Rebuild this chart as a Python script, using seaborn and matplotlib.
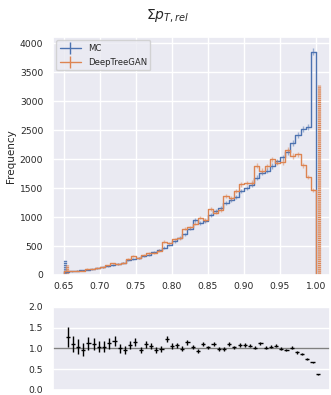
import numpy as np
import pandas as pd
import matplotlib
matplotlib.use("Agg")
import matplotlib.pyplot as plt
from matplotlib.lines import Line2D
import seaborn as sns

# Binning of the summed relative constituent pT
bin_lo, bin_hi, n_bins = 0.6507, 1.0, 49

series_names = ["MC", "DeepTreeGAN"]

mc_counts = [55, 62, 70, 80, 92, 100, 118, 130, 150, 170,
             190, 215, 255, 280, 300, 320, 350, 395, 430, 470,
             520, 580, 640, 700, 800, 950, 900, 930, 1040, 1100,
             1150, 1240, 1300, 1340, 1450, 1500, 1560, 1680, 1760, 1800,
             1880, 1960, 2030, 2120, 2280, 2420, 2520, 2560, 3850]

gan_counts = [70, 69, 73, 77, 103, 110, 123, 135, 168, 201,
              190, 206, 275, 325, 288, 352, 371, 379, 421, 573,
              551, 621, 634, 798, 824, 884, 990, 949, 1144, 1078,
              1127, 1364, 1326, 1447, 1566, 1590, 1591, 1882, 1795, 1872,
              1993, 1940, 1949, 2162, 2052, 2081, 1890, 1690, 1463]

# entries outside the binned range
mc_underflow = 260
gan_underflow = 170
gan_overflow = 3270

x_ticks = [0.65, 0.70, 0.75, 0.80, 0.85, 0.90, 0.95, 1.00]
y_ticks = [0, 500, 1000, 1500, 2000, 2500, 3000, 3500, 4000]
ratio_ticks = [0.0, 0.5, 1.0, 1.5, 2.0]

sns.set_theme(style="darkgrid")
plt.rcParams["font.family"] = ["DejaVu Sans"]
palette = sns.color_palette("deep")
c_mc, c_gan = palette[0], palette[1]

edges = np.linspace(bin_lo, bin_hi, n_bins + 1)
centers = 0.5 * (edges[:-1] + edges[1:])
width = edges[1] - edges[0]
mc = np.asarray(mc_counts, dtype=float)
gan = np.asarray(gan_counts, dtype=float)

fig = plt.figure(figsize=(3.31, 3.95), dpi=100)
ax = fig.add_axes([0.1601, 0.3038, 0.8369, 0.6025])
rax = fig.add_axes([0.1601, 0.0127, 0.8369, 0.2109])

lw = 1.0


def edge_spike(x, h, color):
    ax.vlines(x, 0, h, color=color, lw=2.3, alpha=0.35)
    ax.vlines(x, 0, h, color=color, lw=2.3, linestyles=(0, (0.3, 0.3)))


edge_spike(edges[0] + 0.15 * width, mc_underflow, c_mc)
edge_spike(edges[0] + 0.6 * width, gan_underflow, c_gan)
edge_spike(edges[-1] + 0.5 * width, gan_overflow, c_gan)

for counts, color in ((mc, c_mc), (gan, c_gan)):
    frame = pd.DataFrame({"x": centers, "n": counts})
    sns.histplot(data=frame, x="x", weights="n", bins=list(edges),
                 element="step", fill=False, color=color, linewidth=lw,
                 ax=ax)
    ax.plot([edges[0], edges[0]], [0, counts[0]], color=color, lw=lw)
    ax.plot([edges[-1], edges[-1]], [counts[-1], 0], color=color, lw=lw)
    ax.errorbar(centers, counts, yerr=np.sqrt(counts), fmt="none",
                ecolor=color, elinewidth=1.0, alpha=0.5)

ax.set_xlim(0.6354, 1.0194)
ax.set_ylim(0, 4105)
ax.set_xticks(x_ticks)
ax.set_xticklabels([f"{t:.2f}" for t in x_ticks])
ax.set_yticks(y_ticks)
ax.set_xlabel("")
ax.set_ylabel("Frequency", fontsize=7.5)
ax.yaxis.set_label_coords(-0.135, 0.5)
ax.tick_params(axis="x", labelsize=6.6, pad=4.7, length=0)
ax.tick_params(axis="y", labelsize=6.6, pad=7, length=0)

handles = [Line2D([], [], color=c, lw=lw, marker="|", markersize=8,
                  markeredgewidth=lw) for c in (c_mc, c_gan)]
ax.legend(handles, series_names, loc="upper left", fontsize=6.1,
          handlelength=2.5, borderaxespad=0.4, labelspacing=0.6,
          frameon=True)

# Ratio panel
ratio = gan / mc
ratio_err = ratio * np.sqrt(1.0 / gan + 1.0 / mc)
rax.axhline(1.0, color="grey", lw=1.0, zorder=1)
rax.errorbar(centers, ratio, yerr=ratio_err, xerr=0.4 * width, fmt="none",
             ecolor="black", elinewidth=1.0, zorder=3)
rax.set_xlim(0.6342, 1.0132)
rax.set_ylim(0, 2)
rax.set_yticks(ratio_ticks)
rax.set_yticklabels([f"{t:.1f}" for t in ratio_ticks])
rax.set_xticks([])
rax.tick_params(axis="y", labelsize=6.6, pad=7, length=0)

fig.text(0.505, 1 - 15 / 395, r"$\Sigma p_{T,rel}$", ha="center",
         va="center", fontsize=10)

fig.savefig("out.png", dpi=100)
